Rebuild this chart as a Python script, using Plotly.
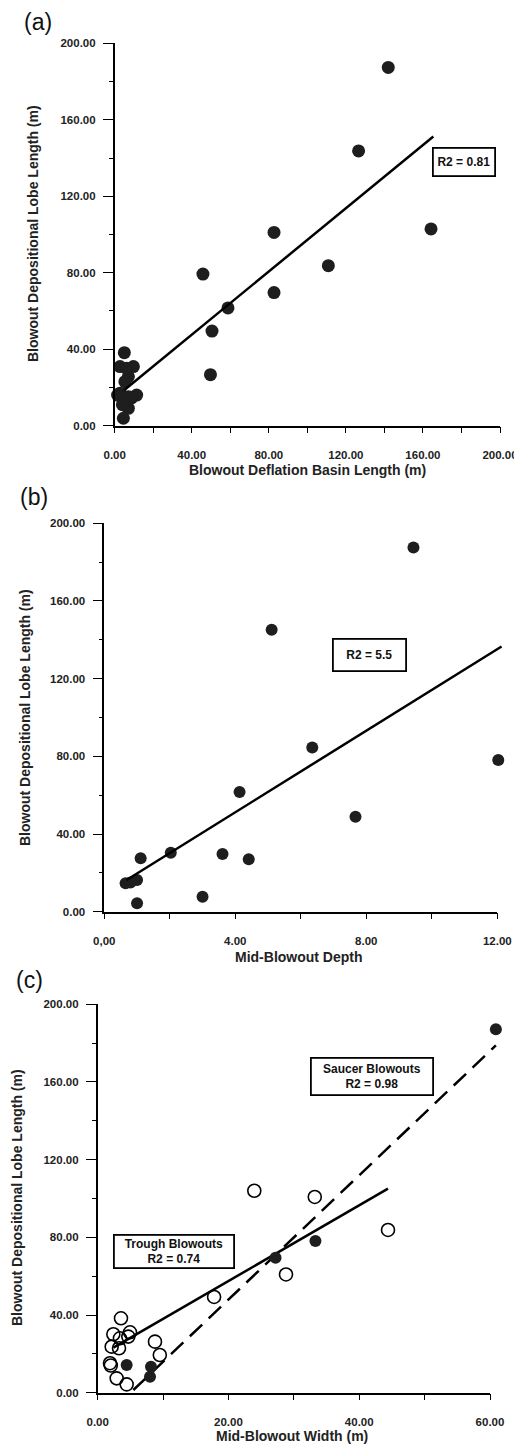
import plotly.graph_objects as go

# ---------------- data ----------------
# (a) Deflation basin length vs depositional lobe length
a_x = [142.0, 126.6, 164.2, 82.7, 110.9, 45.8, 82.7, 58.8, 50.5, 49.7,
       5.0, 2.75, 9.7, 7.1, 5.3, 2.75, 11.4, 7.1, 7.1, 4.5, 1.5, 8.8, 4.0, 6.2]
a_y = [187.4, 143.7, 102.9, 101.1, 83.7, 79.3, 69.6, 61.6, 49.5, 26.7,
       38.2, 30.9, 30.9, 25.7, 23.0, 17.0, 16.0, 15.2, 9.1, 3.9, 16.0, 14.5, 11.0, 30.0]
a_fit = {"slope": 0.827, "intercept": 14.5, "x0": 5.0, "x1": 165.4}

# (b) Mid-blowout depth vs depositional lobe length
b_x = [9.44, 5.11, 6.35, 12.03, 4.13, 7.67, 2.03, 3.61, 1.11, 4.41, 1.0, 0.65, 0.8, 3.0, 1.0]
b_y = [187.5, 145.2, 84.5, 78.1, 61.6, 48.9, 30.4, 29.7, 27.5, 27.0, 16.3, 14.6, 15.0, 7.7, 4.3]
b_fit = {"slope": 10.5, "intercept": 9.2, "x0": 0.68, "x1": 12.13}

# (c) Mid-blowout width vs depositional lobe length
trough_x = [23.95, 33.2, 44.4, 28.8, 17.8, 3.56, 2.39, 4.68, 4.94, 3.4, 2.14, 3.26,
            1.88, 2.9, 4.43, 8.76, 9.5, 2.0]
trough_y = [104.0, 100.8, 83.8, 60.9, 49.3, 38.3, 30.1, 28.9, 31.1, 28.0, 23.7, 22.9,
            15.2, 7.4, 4.3, 26.3, 19.4, 14.0]
saucer_x = [60.9, 27.2, 33.3, 4.43, 8.15, 8.0]
saucer_y = [187.1, 69.5, 78.1, 14.3, 13.4, 8.2]
trough_fit = {"slope": 1.95, "intercept": 18.5, "x0": 2.4, "x1": 44.4}
saucer_fit = {"slope": 3.2, "intercept": -16.05, "x0": 5.45, "x1": 60.9}

y_ticks = [0, 40, 80, 120, 160, 200]
y_ticktext = ["0.00", "40.00", "80.00", "120.00", "160.00", "200.00"]
a_xticks = [0, 40, 80, 120, 160, 200]
a_xticktext = ["0.00", "40.00", "80.00", "120.00", "160.00", "200.00"]
b_xticks = [0, 4, 8, 12]
b_xticktext = ["0,00", "4.00", "8.00", "12.00"]
c_xticks = [0, 20, 40, 60]
c_xticktext = ["0.00", "20.00", "40.00", "60.00"]

# ---------------- helpers ----------------
OFF = 8                      # page body margin of the html page
W, H = 522 - OFF, 1447 - OFF

def px(xp):
    return (xp - OFF) / W

def py(yp):
    return 1 - (yp - OFF) / H

FONT = "Liberation Sans, Arial, sans-serif"

def fit_line(fit):
    xs = [fit["x0"], fit["x1"]]
    ys = [fit["slope"] * v + fit["intercept"] for v in xs]
    return xs, ys

# panel pixel frames (left, right, range max)
A_L, A_R, A_MAX = 114.7, 500.0, 200
B_L, B_R, B_MAX = 104.3, 497.3, 12
C_L, C_R, C_MAX = 97.7, 490.0, 60
B_EXT, C_EXT = 12.4, 62.0    # hidden extended axes so edge points are not culled

fig = go.Figure()

dot = dict(size=13, color="#1e1e1e", line=dict(width=0))

# (a)
fig.add_trace(go.Scatter(x=a_x, y=a_y, mode="markers", marker=dot, cliponaxis=False,
                         xaxis="x", yaxis="y", showlegend=False))
xs, ys = fit_line(a_fit)
fig.add_trace(go.Scatter(x=xs, y=ys, mode="lines", line=dict(color="black", width=2.5),
                         xaxis="x", yaxis="y", showlegend=False, cliponaxis=False))
# (b)
fig.add_trace(go.Scatter(x=b_x, y=b_y, mode="markers", marker=dict(dot, size=12), cliponaxis=False,
                         xaxis="x5", yaxis="y2", showlegend=False))
xs, ys = fit_line(b_fit)
fig.add_trace(go.Scatter(x=xs, y=ys, mode="lines", line=dict(color="black", width=2.5),
                         xaxis="x5", yaxis="y2", showlegend=False, cliponaxis=False))
# (c)
xs, ys = fit_line(saucer_fit)
fig.add_trace(go.Scatter(x=xs, y=ys, mode="lines",
                         line=dict(color="black", width=2.5, dash="17px,9px"),
                         xaxis="x4", yaxis="y3", showlegend=False, cliponaxis=False))
xs, ys = fit_line(trough_fit)
fig.add_trace(go.Scatter(x=xs, y=ys, mode="lines", line=dict(color="black", width=2.5),
                         xaxis="x3", yaxis="y3", showlegend=False, cliponaxis=False))
fig.add_trace(go.Scatter(x=trough_x, y=trough_y, mode="markers",
                         marker=dict(size=13, color="rgba(255,255,255,0)", line=dict(width=1.6, color="black")),
                         xaxis="x3", yaxis="y3", showlegend=False, cliponaxis=False))
fig.add_trace(go.Scatter(x=saucer_x, y=saucer_y, mode="markers", marker=dict(dot, size=12),
                         xaxis="x4", yaxis="y3", showlegend=False, cliponaxis=False))

tickfont = dict(family=FONT, size=11.5, color="#222", weight="bold")

def xaxis(dom, rng, vals, text, minor_dt, anchor):
    return dict(domain=dom, range=rng, anchor=anchor, showline=True, linecolor="black", linewidth=1.5,
                ticks="outside", ticklen=6, tickwidth=1.2, tickcolor="black",
                tickvals=vals, ticktext=text, tickfont=tickfont, ticklabelstandoff=12,
                ticklabeloverflow="allow",
                minor=dict(dtick=minor_dt, ticks="outside", ticklen=6, tickwidth=1.2, tickcolor="black"),
                showgrid=False, zeroline=False, fixedrange=True)

def yaxis(dom, anchor):
    return dict(domain=dom, range=[0, 200], anchor=anchor, showline=True, linecolor="black", linewidth=1.5,
                ticks="outside", ticklen=10, tickwidth=1.2, tickcolor="black",
                tickvals=y_ticks, ticktext=y_ticktext, tickfont=tickfont, ticklabelstandoff=5,
                minor=dict(dtick=20, ticks="outside", ticklen=4, tickwidth=1.2, tickcolor="black"),
                showgrid=False, zeroline=False, fixedrange=True)

def hidden_x(left, right, rmax, rext, anchor):
    scale = (right - left) / rmax
    return dict(domain=[px(left), px(left + rext * scale)], range=[0, rext], anchor=anchor,
                visible=False, fixedrange=True)

fig.update_layout(
    width=W, height=H, margin=dict(l=0, r=0, t=0, b=0, autoexpand=False),
    paper_bgcolor="white", plot_bgcolor="rgba(0,0,0,0)",
    xaxis=xaxis([px(A_L), px(A_R)], [0, A_MAX], a_xticks, a_xticktext, 20, "y"),
    yaxis=yaxis([py(425.7), py(43.3)], "x"),
    xaxis2=xaxis([px(B_L), px(B_R)], [0, B_MAX], b_xticks, b_xticktext, 2, "y2"),
    yaxis2=yaxis([py(911.7), py(523.3)], "x2"),
    xaxis3=xaxis([px(C_L), px(C_R)], [0, C_MAX], c_xticks, c_xticktext, 10, "y3"),
    yaxis3=yaxis([py(1392.7), py(1004.3)], "x3"),
    xaxis4=hidden_x(C_L, C_R, C_MAX, C_EXT, "y3"),
    xaxis5=hidden_x(B_L, B_R, B_MAX, B_EXT, "y2"),
)

titlefont = dict(family=FONT, size=14, color="#222", weight="bold")
ann = []
# panel letters
for lbl, xx, yy in [("(a)", 38, 22), ("(b)", 34, 497), ("(c)", 29, 980)]:
    ann.append(dict(text=lbl, x=px(xx), y=py(yy), xref="paper", yref="paper", showarrow=False,
                    font=dict(family=FONT, size=23, color="#111"), xanchor="center", yanchor="middle"))
# y titles
for xx, yy in [(33, 234), (25, 718), (17, 1198)]:
    ann.append(dict(text="Blowout Depositional Lobe Length (m)", x=px(xx), y=py(yy), xref="paper",
                    yref="paper", showarrow=False, textangle=-90, font=titlefont,
                    xanchor="center", yanchor="middle"))
# x titles
for txt, xx, yy in [("Blowout Deflation Basin Length (m)", 307, 470.5),
                    ("Mid-Blowout Depth", 299, 957),
                    ("Mid-Blowout Width (m)", 292, 1436)]:
    ann.append(dict(text=txt, x=px(xx), y=py(yy), xref="paper", yref="paper", showarrow=False,
                    font=titlefont, xanchor="center", yanchor="middle"))

boxfont = dict(family=FONT, size=12, color="#111", weight="bold")
def box(text, x, y, xr, yr, w, h):
    return dict(text=text, x=x, y=y, xref=xr, yref=yr, showarrow=False, width=w, height=h,
                bordercolor="black", borderwidth=1.8, borderpad=0, bgcolor="white",
                font=boxfont, align="center", xanchor="center", yanchor="middle")

ann.append(box("R2 = 0.81", 181.5, 138.1, "x", "y", 60, 26))
ann.append(box("R2 = 5.5", 8.11, 132.0, "x2", "y2", 71, 30))
ann.append(box("Saucer Blowouts<br>R2 = 0.98", 41.9, 162.7, "x3", "y3", 120, 35))
ann.append(box("Trough Blowouts<br>R2 = 0.74", 11.7, 72.8, "x3", "y3", 118, 31))

fig.update_layout(annotations=ann)

fig.write_html("out.html")
